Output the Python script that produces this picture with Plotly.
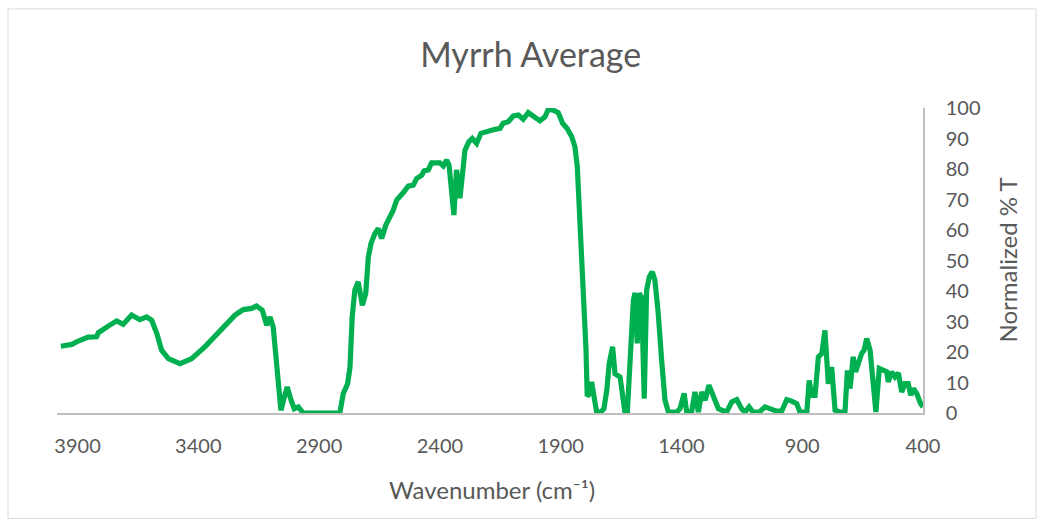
import plotly.graph_objects as go

# Averaged FTIR spectrum of myrrh (wavenumber in cm^-1, normalized %T)
wavenumber = [
    3969, 3924, 3897, 3856, 3821, 3814, 3773, 3738, 3711, 3676,
    3642, 3614, 3593, 3572, 3552, 3524, 3476, 3428, 3373, 3303,
    3248, 3214, 3179, 3159, 3135, 3117, 3103, 3090, 3076, 3069,
    3058, 3044, 3032, 3016, 3003, 2986, 2966, 2814, 2800, 2782,
    2772, 2763, 2752, 2738, 2721, 2707, 2696, 2685, 2669, 2655,
    2641, 2624, 2607, 2593, 2579, 2565, 2552, 2531, 2510, 2496,
    2475, 2465, 2448, 2434, 2413, 2400, 2386, 2372, 2362, 2351,
    2342, 2331, 2317, 2296, 2280, 2266, 2248, 2230, 2213, 2193,
    2172, 2151, 2138, 2117, 2096, 2075, 2055, 2034, 2013, 1986,
    1965, 1951, 1931, 1910, 1892, 1873, 1854, 1841, 1831, 1820,
    1806, 1795, 1790, 1779, 1772, 1762, 1751, 1734, 1721, 1709,
    1699, 1685, 1675, 1654, 1643, 1634, 1624, 1610, 1599, 1592,
    1583, 1575, 1565, 1554, 1544, 1533, 1521, 1510, 1496, 1482,
    1468, 1454, 1420, 1406, 1389, 1378, 1358, 1344, 1330, 1316,
    1302, 1286, 1268, 1247, 1213, 1192, 1171, 1151, 1137, 1120,
    1103, 1078, 1054, 1033, 1006, 985, 964, 944, 923, 909,
    881, 871, 861, 847, 833, 819, 806, 792, 778, 764,
    744, 723, 713, 702, 689, 679, 664, 654, 644, 633,
    619, 606, 595, 581, 564, 550, 544, 530, 516, 502,
    488, 475, 461, 451, 440, 426, 410, 400,
]

transmittance = [
    21.9, 22.5, 23.6, 24.9, 25.0, 26.3, 28.5, 30.2, 29.1, 32.1,
    30.6, 31.5, 30.4, 26.1, 20.6, 17.8, 16.2, 17.8, 21.7, 27.7,
    32.1, 33.9, 34.3, 35.1, 33.7, 28.8, 31.5, 28.2, 15.1, 9.6,
    0.9, 5.2, 8.5, 4.2, 1.4, 2.0, 0.0, 0.0, 6.4, 9.6,
    15.0, 31.5, 40.3, 43.0, 35.3, 39.2, 51.2, 55.6, 58.9, 60.5,
    57.2, 61.6, 64.3, 66.5, 69.8, 71.4, 72.2, 74.4, 74.7, 76.9,
    78.0, 79.4, 79.7, 82.0, 81.8, 82.0, 81.0, 82.9, 81.3, 69.8,
    64.9, 79.7, 70.4, 86.2, 88.9, 90.0, 88.4, 91.7, 92.2, 92.5,
    93.0, 93.3, 95.0, 95.5, 97.4, 97.7, 96.3, 98.5, 97.4, 95.8,
    97.1, 99.6, 99.3, 98.5, 95.0, 93.3, 90.6, 87.3, 80.7, 64.3,
    42.5, 20.6, 5.5, 6.4, 10.2, 5.2, 0.3, 0.3, 1.4, 7.5,
    16.2, 21.7, 12.9, 11.8, 6.4, 0.3, 0.3, 23.9, 37.0, 39.4,
    22.8, 39.2, 38.1, 4.7, 40.3, 44.6, 46.3, 43.6, 32.6, 17.3,
    4.2, 0.3, 0.3, 1.4, 6.4, 0.3, 0.3, 6.9, 0.3, 6.9,
    4.2, 9.1, 5.2, 1.4, 0.3, 3.6, 4.4, 1.4, 0.3, 2.0,
    0.3, 0.3, 2.0, 1.3, 0.6, 0.6, 4.4, 3.9, 3.1, 0.3,
    0.3, 10.7, 5.8, 5.8, 18.4, 19.5, 27.1, 9.6, 15.1, 0.9,
    0.3, 0.3, 14.0, 8.0, 18.4, 13.5, 17.3, 19.5, 20.6, 24.4,
    20.6, 7.5, 0.3, 14.6, 14.0, 13.5, 10.2, 13.5, 11.8, 13.1,
    6.9, 9.6, 9.6, 5.8, 8.0, 6.4, 3.1, 2.0,
]

x_ticks = [3900, 3400, 2900, 2400, 1900, 1400, 900, 400]
y_ticks = [0, 10, 20, 30, 40, 50, 60, 70, 80, 90, 100]

TEXT = "#595959"
AXIS = "#BFBFBF"
FONT = "Lato, 'Open Sans', sans-serif"

fig = go.Figure()
fig.add_trace(go.Scatter(
    x=wavenumber,
    y=transmittance,
    mode="lines",
    line=dict(color="#00B050", width=5.2),
    hoverinfo="x+y",
    showlegend=False,
))

fig.update_layout(
    width=1044,
    height=525,
    margin=dict(l=57, r=121, t=108, b=112),
    paper_bgcolor="white",
    plot_bgcolor="white",
    font=dict(family=FONT, color=TEXT, size=20),
    title=dict(
        text="Myrrh Average",
        font=dict(family=FONT, size=34, color=TEXT),
        x=0.547, xref="paper", xanchor="center",
        y=1 - 55 / 525, yref="container", yanchor="middle",
    ),
    xaxis=dict(
        range=[3985, 400],
        tickmode="array",
        tickvals=x_ticks,
        ticktext=[str(v) for v in x_ticks],
        showgrid=False,
        zeroline=False,
        showline=True,
        linecolor=AXIS,
        linewidth=1.5,
        ticks="",
        ticklabelstandoff=14,
        tickfont=dict(size=20, color=TEXT),
    ),
    yaxis=dict(
        range=[0, 100],
        side="right",
        tickmode="array",
        tickvals=y_ticks,
        showgrid=False,
        zeroline=False,
        showline=True,
        linecolor=AXIS,
        linewidth=1.5,
        ticks="",
        ticklabelstandoff=17,
        tickfont=dict(size=20, color=TEXT),
    ),
    annotations=[
        dict(
            text="Wavenumber (cm⁻¹)",
            x=0.502, y=-0.25, xref="paper", yref="paper",
            xanchor="center", yanchor="middle", showarrow=False,
            font=dict(family=FONT, size=24, color=TEXT),
        ),
        dict(
            text="Normalized % T",
            x=1.097, y=0.5, xref="paper", yref="paper",
            xanchor="center", yanchor="middle", showarrow=False,
            textangle=-90,
            font=dict(family=FONT, size=24, color=TEXT),
        ),
    ],
    shapes=[
        dict(
            type="rect", xref="paper", yref="paper",
            x0=(8 - 57) / 866, x1=(1036 - 57) / 866,
            y0=(412.7 - 518) / 304.7, y1=(412.7 - 9) / 304.7,
            line=dict(color="#D9D9D9", width=1),
            fillcolor="rgba(0,0,0,0)", layer="below",
        )
    ],
)

fig.write_html("out.html")
